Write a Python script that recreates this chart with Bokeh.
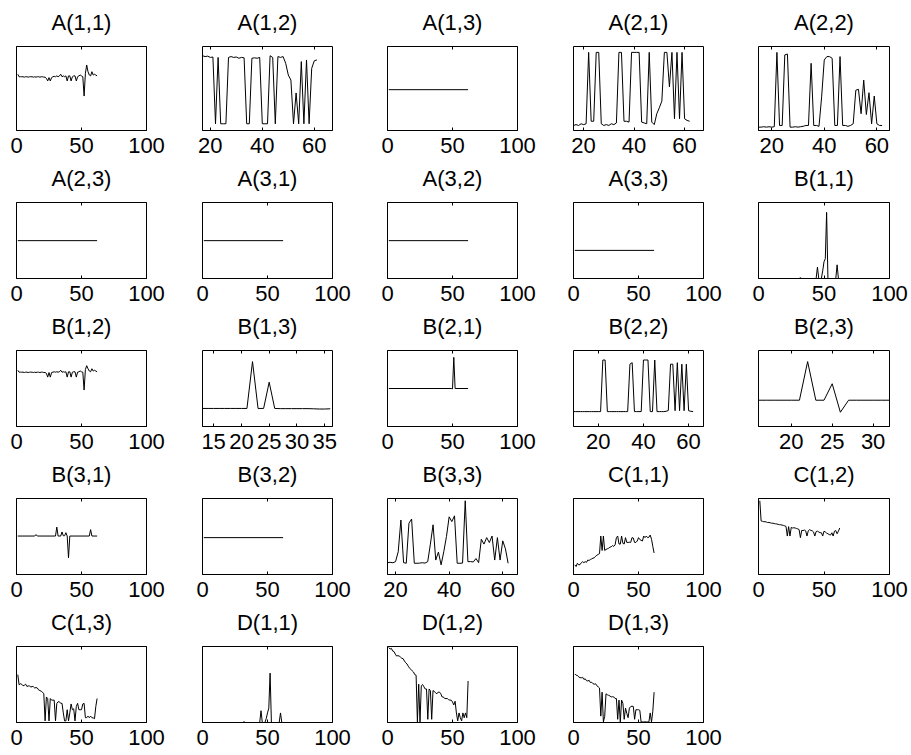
from bokeh.plotting import figure
from bokeh.layouts import column, row, Spacer
from bokeh.models import Range1d, FixedTicker, LinearAxis
from bokeh.embed import file_html
from bokeh.resources import INLINE

# ---------------- data (y in % of each panel's height) ----------------
titles = ["A(1,1)", "A(1,2)", "A(1,3)", "A(2,1)", "A(2,2)",
          "A(2,3)", "A(3,1)", "A(3,2)", "A(3,3)", "B(1,1)",
          "B(1,2)", "B(1,3)", "B(2,1)", "B(2,2)", "B(2,3)",
          "B(3,1)", "B(3,2)", "B(3,3)", "C(1,1)", "C(1,2)",
          "C(1,3)", "D(1,1)", "D(1,2)", "D(1,3)"]

a11_x = list(range(1, 63))
a11_y = [67, 64, 64, 64, 64, 63.5, 64, 64, 63.5, 64, 64, 64, 63.5, 64, 63.5, 64, 64, 63.5, 64, 64,
         63.5, 63.5, 62, 59, 63, 59, 63, 64, 64.5, 64, 65, 64, 65, 67, 64, 65, 64, 65, 59, 65,
         65, 59, 64, 65, 65, 59, 64, 65, 66, 65, 64, 41, 68, 78, 70, 66, 65, 70, 66, 67, 66, 65]

a12_x = list(range(17, 62))
a12_y = [89, 88, 88.5, 87, 87.5, 8, 87, 8, 8, 8, 87, 88, 87, 87.5, 86, 87, 86.5, 8, 8, 86,
         86.5, 86, 87, 8, 8, 8, 89, 87, 8, 88, 87, 88, 80, 66, 60, 8, 44.7, 8, 82, 8,
         84, 8, 74, 83, 84]

a13_x = [1, 62]
a13_y = [48.6, 48.6]

a21_x = list(range(16, 63))
a21_y = [6, 7, 6, 8, 7, 8, 93, 11, 11, 93, 93, 8, 6, 7, 6, 8, 7, 9, 93, 93,
         11, 11, 10, 93, 93, 93, 93, 10, 9, 8, 93, 10, 7, 20, 27, 35, 93, 93, 52, 93,
         14, 93, 14, 93, 14, 12, 11]

a22_x = list(range(15, 63))
a22_y = [4, 4, 4.5, 4, 4.5, 4, 4.5, 93, 6, 6, 90, 91, 4, 4, 4.5, 4, 4.5, 5, 6, 6,
         80, 6, 6, 5, 40, 84, 88, 88, 86, 6, 6, 88, 6, 6, 5, 6, 8, 48, 49, 20,
         60, 19, 45, 8, 41, 8, 6, 6]

a23_x = [1, 62]
a23_y = [49.8, 49.8]
a31_x = [1, 62]
a31_y = [49.8, 49.8]
a32_x = [1, 62]
a32_y = [49.8, 49.8]
a33_x = [1, 62]
a33_y = [37, 37]

b11_x = [1, 31, 32, 33, 44, 45, 46, 48, 49, 50, 51, 52, 53, 59, 60, 61, 62]
b11_y = [0, 0, 1, 0, 0, 15, 0, 0, 10, 22, 26, 87, 0, 0, 18, 0, 0]

b12_x = list(range(1, 63))
b12_y = [74, 71.5, 71.5, 71.5, 71.5, 71, 71.5, 71.5, 71, 71.5, 71.5, 71.5, 71, 71.5, 71, 71.5, 71.5, 71, 71.5, 71.5,
         71, 71, 70, 65, 71, 65, 71, 71.5, 72, 71.5, 72, 71.5, 72, 74, 71.5, 72, 71.5, 72, 65, 72,
         72, 65, 71.5, 72, 72, 65, 71.5, 72, 73, 72, 71.5, 48, 75, 80, 76, 73, 72, 76, 73, 74, 73, 72]

b13_x = list(range(13, 37))
b13_y = [23.75, 23.75, 23.75, 23.75, 23.75, 23.75, 23.75, 23.75, 23.75, 85.4, 23.75, 23.75, 58.3, 23.75,
         23.5, 23.5, 23.5, 23.5, 23.5, 23.5, 23.3, 23, 23, 23.3]

b21_x = [1, 49, 50, 51, 52, 62]
b21_y = [50, 50, 49.5, 91, 50, 50]

b22_x = list(range(9, 63))
b22_y = [19.6, 19.6, 19.6, 19.6, 19.6, 19.6, 19.6, 19.6, 19.6, 19.6, 19.6, 19.6, 19.6, 87.5, 87.5, 19.6,
         19.6, 19.6, 19.6, 19.6, 19.6, 19.6, 19.6, 19.6, 19.6, 82, 84, 19.6, 19.6, 19.6, 19.6, 87.5,
         87.5, 87.5, 19.6, 19.6, 87.5, 19.6, 19.6, 19.6, 19.6, 20, 21, 82, 82, 20.8, 84, 20.8,
         82, 20.8, 82, 20.8, 20, 19.6]

b23_x = list(range(16, 33))
b23_y = [34.6, 34.6, 34.6, 34.6, 34.6, 34.6, 85.4, 34.6, 34.6, 56.25, 18.75, 34.6, 34.6, 34.6, 34.6, 34.6, 34.6]

b31_x = [1, 14, 15, 16, 30, 31, 32, 34, 35, 36, 37, 38, 39, 40, 41, 56, 57, 58, 62]
b31_y = [50.6, 50.6, 52.5, 50.6, 50.6, 62.4, 50.6, 50.6, 56, 51, 51, 55, 50.6, 22, 50.6, 50.6, 59, 50.6, 50.6]

b32_x = [1, 62]
b32_y = [48.5, 48.5]

b33_x = list(range(17, 63))
b33_y = [15.6, 16, 15.5, 16.9, 30, 71.7, 15.6, 14.8, 67.5, 73, 14.8, 14.8, 15, 15.5, 15, 16.9, 40, 65.4, 19, 29.5,
         12.7, 30, 50, 75.9, 69.6, 77.2, 14.8, 14.8, 15, 97, 16.9, 17, 16.5, 21, 15.6, 46.4, 40, 48.5, 42, 50.6,
         19, 48.5, 19, 44.3, 33.8, 14.8]

c11_x = list(range(1, 63))
c11_y = [12.7, 10.5, 14.8, 12.7, 13, 15.5, 16.9, 15.5, 17, 16, 19, 18.5, 19.8, 20.5, 21.5, 22, 24, 25.3, 26.5, 27.4,
         50.6, 31.6, 50.6, 31.6, 33, 33.8, 34.5, 35.9, 36.5, 38, 37, 39, 48.5, 50.6, 40.1, 40, 50.6, 41, 40.1, 48.5,
         42.2, 42.2, 42.5, 42.2, 48.5, 48, 42.2, 42.2, 44, 48.5, 46, 45, 44, 50.6, 48.5, 50.6, 48.5, 49, 51.9, 46.4,
         37, 28.3]

c12_x = list(range(1, 63))
c12_y = [97, 70.5, 70, 69.5, 69.5, 69, 68.4, 68.5, 68, 67.5, 67.5, 67, 66.7, 66.5, 66, 65.5, 65.5, 65, 64.6, 64,
         63.3, 50.6, 63, 50.6, 62, 61.2, 61.5, 61.2, 60.5, 60, 59.1, 48.5, 58, 57.8, 58.5, 57.5, 50.6, 57.5, 59, 58,
         57.5, 56, 50.6, 56.5, 57, 56, 55, 54.9, 50.6, 57, 56, 54.5, 53.6, 52.5, 51.9, 54.9, 50.6, 57, 57.8, 53.6,
         57, 61.2]

c13_x = list(range(1, 63))
c13_y = [63, 49.6, 51, 50.4, 48.3, 49, 50.4, 47.5, 48, 48.3, 46.5, 47.5, 47.1, 45.4, 46, 45.4, 42.9, 42, 41.2, 39.9,
         37.8, 2.1, 33.6, 31.5, 2.1, 31.5, 29.4, 29.4, 29.4, 2.1, 25.2, 27.3, 27.3, 25.2, 25.2, 12.6, 2.1, 2.1, 16.8, 2.1,
         12.6, 24.4, 16.8, 18, 2.1, 21, 25.2, 16.8, 16.8, 16.8, 24.4, 25.2, 6.3, 6.3, 8.4, 6.3, 8.4, 6.3, 6, 5,
         21, 31.5]

d11_x = [1, 31, 32, 33, 44, 45, 46, 48, 49, 50, 51, 52, 53, 59, 60, 61, 62]
d11_y = [0, 0, 1, 0, 0, 15.5, 0, 0, 5, 12.6, 18.9, 65, 0, 0, 12.6, 0, 0]

d12_x = list(range(1, 63))
d12_y = [98.7, 96.6, 97.5, 94, 93.3, 90, 87.4, 88, 87.4, 86, 84.5, 84, 81, 78.6, 77, 74, 71.4, 70, 68, 66.4,
         63, 62.2, 0.8, 50.4, 0.8, 48.3, 50, 47, 44.1, 44.1, 4.2, 44.1, 42, 4.2, 42, 41, 39, 37.8, 40, 39.9,
         37.8, 33.6, 33.6, 31.5, 31.5, 31.5, 30, 29.4, 29.4, 27, 23.1, 28, 12.6, 2.1, 12.6, 6.3, 2.1, 12.6, 6.3, 12.6,
         6.3, 54.6]

d13_x = list(range(1, 63))
d13_y = [63.9, 62.2, 62, 60, 59, 58.8, 59.5, 56.7, 57.5, 55, 54.6, 55.5, 52.5, 53, 51, 50.4, 51, 48.3, 47, 45.4,
         8.4, 39.9, 0.8, 8, 37.8, 36.5, 35.7, 35, 33.6, 34, 33.6, 31.5, 31.5, 4.2, 29.4, 0.8, 29.4, 25.2, 4.2, 18.9,
         12, 6.3, 18.9, 21, 21.5, 21, 4.2, 16.8, 16.8, 16.8, 16, 0.8, 0.8, 0.8, 0.8, 0.8, 0.8, 0.8, 12.6, 0.8,
         14.7, 39.9]

series = [(a11_x, a11_y), (a12_x, a12_y), (a13_x, a13_y), (a21_x, a21_y), (a22_x, a22_y),
          (a23_x, a23_y), (a31_x, a31_y), (a32_x, a32_y), (a33_x, a33_y), (b11_x, b11_y),
          (b12_x, b12_y), (b13_x, b13_y), (b21_x, b21_y), (b22_x, b22_y), (b23_x, b23_y),
          (b31_x, b31_y), (b32_x, b32_y), (b33_x, b33_y), (c11_x, c11_y), (c12_x, c12_y),
          (c13_x, c13_y), (d11_x, d11_y), (d12_x, d12_y), (d13_x, d13_y)]

T100 = [0, 50, 100]
T2060 = [20, 40, 60]
xlims = [(0, 100), (17, 67), (0, 100), (16, 67.5), (15, 64.8),
         (0, 100), (0, 100), (0, 100), (0, 100), (0, 100),
         (0, 100), (13, 36.4), (0, 100), (9, 66.6), (16, 32),
         (0, 100), (0, 100), (17, 65.5), (0, 100), (0, 100),
         (0, 100), (0, 100), (0, 100), (0, 100)]
xticks = [T100, T2060, T100, T2060, T2060,
          T100, T100, T100, T100, T100,
          T100, [15, 20, 25, 30, 35], T100, T2060, [20, 25, 30],
          T100, T100, T2060, T100, T100,
          T100, T100, T100, T100]

# ---------------- layout ----------------
COL_LEFT = [16, 28, 27, 28, 27]
COL_FRAME = [130, 130, 130, 130, 131]
COL_RIGHT = [28, 28, 28, 28, 21]
ROW_TOP = [38, 38, 38, 38, 38]
ROW_FRAME = [86, 78, 78, 78, 78]
ROW_BOTTOM = [32, 32, 32, 32, 32]
FONT = "Liberation Sans"

figs = []
for i, title in enumerate(titles):
    r, c = divmod(i, 5)
    xs, ys = series[i]
    p = figure(width=COL_LEFT[c] + COL_FRAME[c] + COL_RIGHT[c],
               height=ROW_TOP[r] + ROW_FRAME[r] + ROW_BOTTOM[r],
               min_border_left=COL_LEFT[c], min_border_right=COL_RIGHT[c],
               min_border_top=ROW_TOP[r], min_border_bottom=ROW_BOTTOM[r],
               x_range=Range1d(*xlims[i]), y_range=Range1d(0, 100),
               y_axis_location=None, output_backend="svg", toolbar_location=None)
    p.line(xs, ys, line_color="black", line_width=1)
    p.xgrid.grid_line_color = None
    p.ygrid.grid_line_color = None
    p.outline_line_color = "black"
    p.outline_line_width = 1
    p.background_fill_color = "white"
    p.border_fill_color = "white"
    ax = p.xaxis[0]
    ax.ticker = FixedTicker(ticks=xticks[i])
    ax.major_label_text_font = FONT
    ax.major_label_text_font_size = "22px"
    ax.major_label_text_color = "black"
    ax.major_label_standoff = 7
    ax.major_tick_in = 3
    ax.major_tick_out = 0
    ax.minor_tick_line_color = None
    ax.axis_line_color = "black"
    ax.major_tick_line_color = "black"
    # top edge: inward tick marks, and the panel title as the axis label
    top = LinearAxis(ticker=FixedTicker(ticks=xticks[i]),
                     major_label_overrides={t: "" for t in xticks[i]},
                     major_label_standoff=0, major_tick_in=3, major_tick_out=0,
                     minor_tick_line_color=None, axis_line_color=None,
                     major_tick_line_color="black",
                     axis_label=title, axis_label_standoff=12,
                     axis_label_text_font=FONT, axis_label_text_font_size="22px",
                     axis_label_text_font_style="normal", axis_label_text_color="black")
    p.add_layout(top, "above")
    figs.append(p)

rows = [row(*figs[r * 5:(r + 1) * 5]) for r in range(5)]
layout = column(Spacer(height=6, width=10), *rows)

open("out.html", "w").write(file_html(layout, INLINE))
